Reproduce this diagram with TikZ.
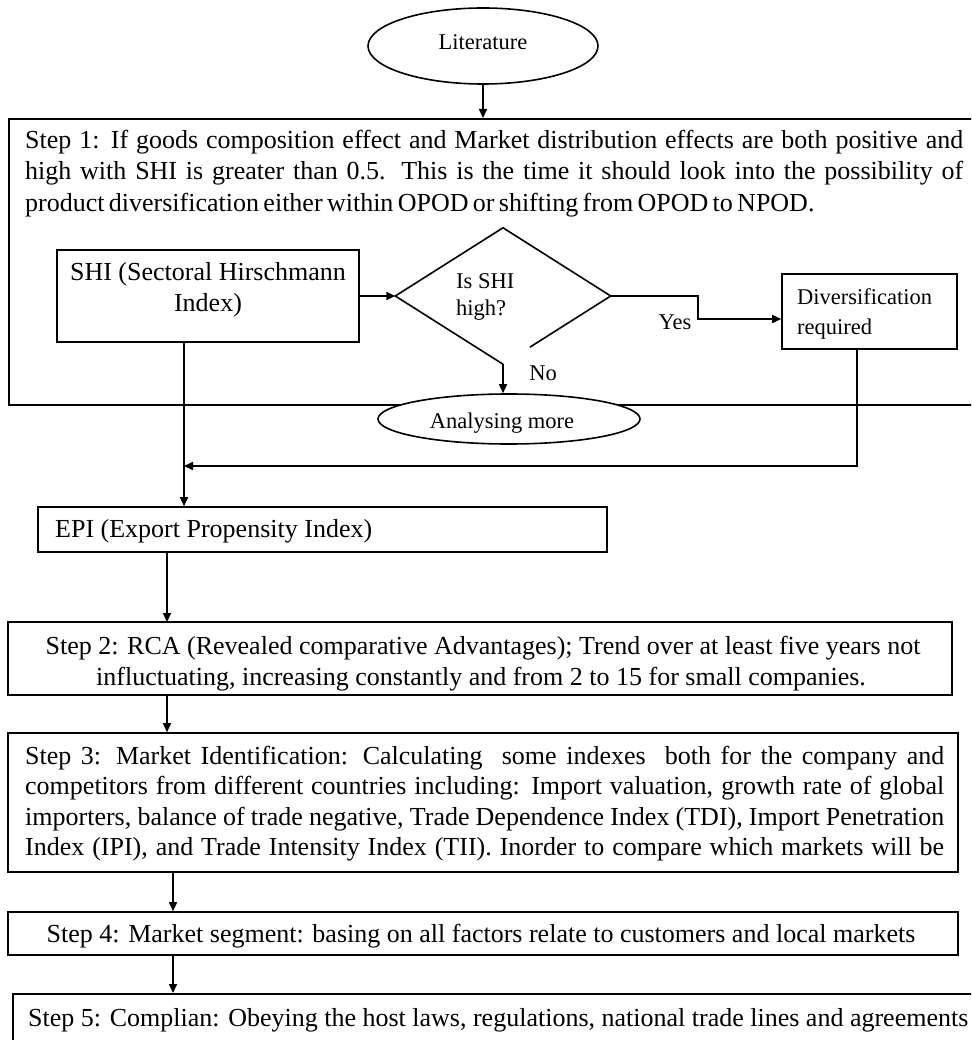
\documentclass[tikz,border=0pt]{standalone}
\usepackage{fontspec}
\setmainfont{Liberation Serif}
\usetikzlibrary{shapes.geometric,arrows.meta,calc}
\tikzset{
  ln/.style={line width=1.6pt},
  box/.style={draw, line width=1.6pt, rectangle, inner sep=0pt},
  arr/.style={line width=1.6pt, -{Triangle[length=9pt,width=8pt]}},
  txt/.style={inner sep=0pt, font=\fontsize{26}{30}\selectfont},
  sm/.style={inner sep=0pt, font=\fontsize{22.5}{26}\selectfont},
}
\begin{document}
\begin{tikzpicture}[x=1pt,y=-1pt]
\useasboundingbox (0,0) rectangle (971,1040);
\clip (0,0) rectangle (971,1040);
\fill[white] (0,0) rectangle (971,1040);

% Literature
\node[draw, ellipse, ln, fill=white, minimum width=230pt, minimum height=76pt, inner sep=0pt] (lit) at (483,46) {};
\node[sm, anchor=base] (littxt) at (483,50) {Literature};

% Step 1 frame
\node[box, minimum width=992pt, minimum height=286pt, anchor=north west] (s1) at (8,118) {};
\draw[arr] (lit.south) -- (lit.south |- s1.north);
\node[txt, anchor=base west] (s1a) at (25,149) {\makebox[938pt][s]{Step 1: If goods composition effect and Market distribution effects are both positive and}};
\node[txt, anchor=base west] (s1b) at (25,180) {\makebox[938pt][s]{high with SHI is greater than 0.5. This is the time it should look into the possibility of}};
\node[txt, anchor=base west] (s1c) at (25,212) {\makebox[778pt][s]{product diversification either within OPOD or shifting from OPOD to NPOD.}};

% SHI box
\node[box, minimum width=302pt, minimum height=92pt] (shi) at (208,296) {};
\node[txt, anchor=base] (shia) at (208,280) {SHI (Sectoral Hirschmann};
\node[txt, anchor=base] (shib) at (208,311) {Index)};

% Decision diamond
\node[diamond, minimum width=215pt, minimum height=136pt, inner sep=0pt] (d) at (503,296) {};
\draw[ln] (d.east) -- (d.north) -- (d.west) -- (d.south);
\draw[ln] (d.east) -- ($(d.east)!0.75!(d.south)$);
\node[sm, anchor=base west] (dq1) at (456,289) {Is SHI};
\node[sm, anchor=base west] (dq2) at (456,315) {high?};
\draw[arr] (shi.east) -- (d.west);

% Diversification
\node[box, minimum width=175pt, minimum height=75pt] (div) at (869.5,311.5) {};
\node[sm, anchor=base west] (diva) at (797,305) {Diversification};
\node[sm, anchor=base west] (divb) at (797,334) {required};
\coordinate (yk) at (698,296);
\draw[arr] (d.east) -- (yk) |- ([yshift=-7.5pt]div.west);
\node[sm, anchor=base] (yes) at (675,329) {Yes};

% Analysing more
\node[draw, ellipse, ln, fill=white, minimum width=262pt, minimum height=50pt, inner sep=0pt] (an) at (509,419) {};
\node[sm, anchor=base] (antxt) at (502,428) {Analysing more};
\draw[arr] (d.south) -- (d.south |- an.north);
\node[sm, anchor=base] (no) at (543,380) {No};

% EPI
\node[box, minimum width=569pt, minimum height=45pt] (epi) at (322.5,529.5) {};
\node[txt, anchor=base west] (epitxt) at (55,537) {EPI (Export Propensity Index)};
\draw[arr] ([xshift=-24pt]shi.south) -- ([xshift=-24pt]shi.south |- epi.north);
\coordinate (j) at (184,466);
\draw[arr] ([xshift=-12.5pt]div.south) |- (j);

% Step 2
\node[box, minimum width=944pt, minimum height=73pt] (s2) at (480,658.5) {};
\node[txt, anchor=base] (s2a) at (483,654) {Step 2: RCA (Revealed comparative Advantages); Trend over at least five years not};
\node[txt, anchor=base] (s2b) at (481,685) {influctuating, increasing constantly and from 2 to 15 for small companies.};
\draw[arr] (167,552) -- (167,622);

% Step 3
\node[box, minimum width=950pt, minimum height=139pt] (s3) at (483,802.5) {};
\node[txt, anchor=base west] (s3a) at (25,764) {\makebox[919pt][s]{Step 3: Market Identification: Calculating \ some indexes \ both for the company and}};
\node[txt, anchor=base west] (s3b) at (25,794) {\makebox[919pt][s]{competitors from different countries including: Import valuation, growth rate of global}};
\node[txt, anchor=base west] (s3c) at (25,825) {\makebox[919pt][s]{importers, balance of trade negative, Trade Dependence Index (TDI), Import Penetration}};
\node[txt, anchor=base west] (s3d) at (25,855) {\makebox[919pt][s]{Index (IPI), and Trade Intensity Index (TII). Inorder to compare which markets will be}};
\draw[arr] ([xshift=-313pt]s2.south) -- ([xshift=-313pt]s2.south |- s3.north);

% Step 4
\node[box, minimum width=950pt, minimum height=43pt] (s4) at (483,933.5) {};
\node[txt, anchor=base] (s4t) at (481,942) {Step 4: Market segment: basing on all factors relate to customers and local markets};
\draw[arr] ([xshift=-310pt]s3.south) -- ([xshift=-310pt]s3.south |- s4.north);

% Step 5
\node[box, minimum width=988pt, minimum height=120pt, anchor=north west] (s5) at (12,993) {};
\node[txt, anchor=base west] (s5t) at (28,1026) {Step 5: Complian: Obeying the host laws, regulations, national trade lines and agreements};
\draw[arr] ([xshift=-310pt]s4.south) -- ([xshift=-310pt]s4.south |- s5.north);
\end{tikzpicture}
\end{document}
